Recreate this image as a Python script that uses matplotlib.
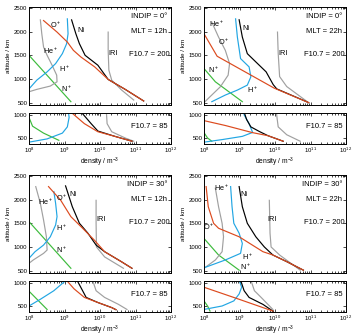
import numpy as np
import matplotlib
matplotlib.use("Agg")
import matplotlib.pyplot as plt
from matplotlib.ticker import LogLocator, NullFormatter, FixedLocator

plt.rcParams["font.family"] = ["Liberation Sans", "DejaVu Sans"]
plt.rcParams["mathtext.default"] = "regular"

# panel annotations
INDIP = ["0°", "0°", "30°", "30°"]
MLT = ["12h", "22h", "12h", "22h"]
F_HIGH = "F10.7 = 200"
F_LOW = "F10.7 = 85"
XTICKS = [1e8, 1e9, 1e10, 1e11, 1e12]

# curves as (log10 density / m^-3, altitude / km)
# panel 1: INDIP 0, MLT 12h
p1_top_op = [(8.41, 2234), (8.79, 1990), (9.08, 1780), (9.25, 1605), (9.46, 1465),
             (9.85, 1255), (10.23, 990), (10.71, 780), (11.23, 535)]
p1_top_ni = [(9.20, 2248), (9.32, 1955), (9.42, 1745), (9.58, 1500), (9.94, 1290),
             (10.23, 990), (10.71, 780), (11.23, 535)]
p1_top_he = [(8.32, 2248), (8.36, 1955), (8.41, 1675), (8.51, 1500), (8.65, 1290),
             (8.78, 1080), (8.79, 940), (8.60, 850), (8.22, 780), (8.0, 730)]
p1_top_h = [(9.08, 2270), (9.10, 1955), (9.06, 1745), (8.94, 1535), (8.75, 1325),
            (8.51, 1150), (8.22, 975), (8.0, 790)]
p1_top_n = [(8.0, 1500), (9.18, 520)]
p1_top_iri = [(10.23, 1990), (10.23, 1605), (10.25, 1185), (10.33, 975), (10.61, 765), (10.95, 555)]
p1_bot_n = [(8.0, 945), (8.10, 755), (8.41, 605), (8.84, 450)]
p1_bot_h = [(8.0, 410), (8.51, 480), (8.94, 605), (9.08, 740), (9.13, 945), (9.11, 1060)]
p1_bot_op = [(9.18, 1060), (9.56, 810), (9.94, 635), (10.42, 535), (10.90, 430)]
p1_bot_ni = [(9.47, 1060), (9.75, 810), (9.94, 650), (10.42, 535), (10.90, 430)]
p1_bot_iri = [(10.18, 1060), (10.20, 810), (10.33, 635), (10.71, 500), (10.95, 430)]

# panel 2: INDIP 0, MLT 22h
p2_top_op = [(8.0, 1955), (8.37, 1480), (9.98, 805), (10.95, 500)]
p2_top_ni = [(8.99, 2250), (9.08, 1885), (9.22, 1535), (9.46, 1360), (9.75, 1150),
             (9.95, 880), (10.05, 790), (10.95, 500)]
p2_top_he = [(8.22, 2200), (8.41, 1885), (8.60, 1605), (8.72, 1325), (8.68, 1080),
             (8.46, 835), (8.17, 625), (8.0, 500)]
p2_top_h = [(8.89, 2270), (8.94, 1885), (9.03, 1430), (9.27, 1255), (9.32, 1045),
            (9.22, 870), (8.94, 765), (8.60, 660), (8.22, 520)]
p2_top_n = [(8.0, 1220), (8.32, 940), (8.70, 730), (9.08, 520)]
p2_top_iri = [(10.07, 1990), (10.09, 1540), (10.13, 1050), (10.33, 840), (10.90, 525)]
p2_bot_op = [(8.0, 875), (8.6, 770), (9.37, 615), (9.8, 550), (10.23, 430)]
p2_bot_n = [(8.0, 615), (8.10, 500), (8.22, 430)]
p2_bot_h = [(8.0, 410), (8.51, 465), (9.08, 535), (9.37, 620), (9.27, 810), (9.13, 1000), (9.12, 1060)]
p2_bot_ni = [(9.13, 1060), (9.20, 900), (9.32, 740), (9.56, 640), (9.8, 550), (10.23, 430)]
p2_bot_iri = [(10.04, 1060), (10.05, 980), (10.09, 740), (10.33, 570), (10.71, 430)]

# panel 3: INDIP 30, MLT 12h
p3_top_op = [(8.55, 2275), (8.89, 1990), (9.18, 1640), (9.51, 1395), (9.84, 1145),
             (10.13, 900), (10.60, 690), (10.90, 550)]
p3_top_ni = [(9.03, 2290), (9.22, 1850), (9.42, 1500), (9.66, 1290), (9.89, 1040),
             (10.13, 900), (10.60, 690), (10.90, 550)]
p3_top_he = [(8.19, 2275), (8.32, 1920), (8.41, 1570), (8.49, 1215), (8.51, 935),
             (8.41, 865), (8.12, 725), (8.0, 655)]
p3_top_h = [(8.70, 2170), (8.75, 1920), (8.79, 1640), (8.75, 1465), (8.60, 1215),
            (8.41, 1040), (8.17, 900), (8.0, 760)]
p3_top_n = [(8.0, 1535), (9.18, 550)]
p3_top_iri = [(9.89, 1985), (9.89, 1500), (9.90, 1000), (10.13, 790), (10.66, 550)]
p3_bot_op = [(9.05, 1060), (9.27, 870), (9.56, 685), (9.94, 575), (10.33, 465), (10.45, 420)]
p3_bot_n = [(8.0, 820), (8.51, 425)]
p3_bot_h = [(8.0, 500), (8.32, 645), (8.70, 830), (9.05, 1060)]
p3_bot_ni = [(9.35, 1060), (9.51, 830), (9.61, 685), (9.94, 575), (10.33, 465), (10.45, 420)]
p3_bot_iri = [(9.79, 1060), (9.89, 830), (10.13, 685), (10.52, 535), (10.76, 425)]

# panel 4: INDIP 30, MLT 22h
p4_top_op = [(8.06, 2275), (8.12, 1850), (8.27, 1500), (8.41, 1395), (8.99, 1215),
             (9.66, 900), (9.94, 830), (10.33, 690), (10.80, 510)]
p4_top_ni = [(8.99, 2275), (9.08, 1850), (9.22, 1500), (9.46, 1215), (9.70, 1000),
             (9.94, 830), (10.33, 690), (10.80, 510)]
p4_top_he = [(8.32, 2240), (8.41, 1850), (8.51, 1500), (8.55, 1215), (8.51, 900),
             (8.32, 725), (8.0, 550)]
p4_top_h = [(8.75, 2275), (8.79, 1850), (8.84, 1500), (8.99, 1290), (9.08, 1075),
            (9.03, 865), (8.60, 725), (8.0, 560)]
p4_top_n = [(8.0, 1180), (8.41, 830), (8.99, 510)]
p4_top_iri = [(9.84, 1985), (9.86, 1290), (9.89, 1000), (10.13, 830), (10.71, 510)]
p4_bot_op = [(8.0, 905), (8.97, 650), (9.94, 390)]
p4_bot_n = [(8.0, 610), (8.10, 500), (8.17, 390)]
p4_bot_h = [(8.0, 425), (8.51, 500), (8.84, 610), (8.99, 760), (9.06, 905), (8.99, 1060)]
p4_bot_ni = [(9.03, 1060), (9.13, 830), (9.27, 685), (9.66, 535), (9.94, 390)]
p4_bot_iri = [(9.32, 1060), (9.42, 830), (9.61, 685), (9.94, 425)]

RED = "#dc4a1e"
BLUE = "#22a6e3"
GREEN = "#3dbb3d"
GRAY = "#a0a0a0"

W, H = 354, 336
fig = plt.figure(figsize=(W / 100, H / 100), dpi=100)


def box(l, t, r, b):
    return [l / W, 1 - b / H, (r - l) / W, (b - t) / H]


def style(ax, ylim, yticks):
    ax.set_xscale("log")
    ax.set_xlim(1e8, 1e12)
    ax.set_ylim(*ylim)
    ax.xaxis.set_major_locator(FixedLocator(XTICKS))
    ax.xaxis.set_minor_locator(LogLocator(base=10, subs=np.arange(2, 10)))
    ax.xaxis.set_minor_formatter(NullFormatter())
    ax.set_yticks(yticks)
    ax.tick_params(which="both", direction="in", top=True, right=True,
                   width=0.5, labelsize=4.3, pad=1.2)
    ax.tick_params(which="major", length=2.2)
    ax.tick_params(which="minor", length=1.2)
    for s in ax.spines.values():
        s.set_linewidth(0.7)


def draw(ax, curves):
    for pts, c in curves:
        a = np.array(pts)
        ax.plot(10 ** a[:, 0], a[:, 1], color=c, lw=0.85)


panels = [
    (29, 0, [p1_top_n, p1_top_he, p1_top_h, p1_top_iri, p1_top_ni, p1_top_op],
     [p1_bot_n, p1_bot_h, p1_bot_iri, p1_bot_ni, p1_bot_op]),
    (204, 0, [p2_top_n, p2_top_he, p2_top_h, p2_top_iri, p2_top_ni, p2_top_op],
     [p2_bot_n, p2_bot_h, p2_bot_iri, p2_bot_ni, p2_bot_op]),
    (29, 168, [p3_top_n, p3_top_he, p3_top_h, p3_top_iri, p3_top_ni, p3_top_op],
     [p3_bot_n, p3_bot_h, p3_bot_iri, p3_bot_ni, p3_bot_op]),
    (204, 168, [p4_top_n, p4_top_he, p4_top_h, p4_top_iri, p4_top_ni, p4_top_op],
     [p4_bot_n, p4_bot_h, p4_bot_iri, p4_bot_ni, p4_bot_op]),
]
top_colors = [GREEN, GRAY, BLUE, GRAY, "black", RED]
bot_colors = [GREEN, BLUE, GRAY, "black", RED]

# species label positions (log10 density, altitude)
label_pos = [
    {"O$^+$": (8.75, 2150), "Ni": (9.46, 2030), "He$^+$": (8.62, 1600),
     "H$^+$": (9.0, 1220), "N$^+$": (9.05, 790), "IRI": (10.37, 1540)},
    {"He$^+$": (8.36, 2170), "Ni": (9.18, 2060), "O$^+$": (8.55, 1780),
     "N$^+$": (8.27, 1190), "H$^+$": (9.37, 770), "IRI": (10.23, 1540)},
    {"He$^+$": (8.47, 1960), "O$^+$": (8.93, 2040), "Ni": (9.24, 2100),
     "H$^+$": (8.93, 1395), "N$^+$": (8.93, 940), "IRI": (10.03, 1570)},
    {"He$^+$": (8.50, 2240), "Ni": (9.12, 2100), "O$^+$": (8.12, 1430),
     "H$^+$": (9.22, 800), "N$^+$": (9.17, 590), "IRI": (9.93, 1570)},
]

for i, (x0, y0, top, bot) in enumerate(panels):
    ax1 = fig.add_axes(box(x0, y0 + 7, x0 + 142, y0 + 105))
    ax2 = fig.add_axes(box(x0, y0 + 113, x0 + 142, y0 + 144))
    style(ax1, (450, 2520), [500, 1000, 1500, 2000, 2500])
    style(ax2, (370, 1040), [500, 1000])
    ax1.tick_params(labelbottom=False)
    draw(ax1, zip(top, top_colors))
    draw(ax2, zip(bot, bot_colors))

    for name, (lx, ly) in label_pos[i].items():
        ax1.text(10 ** lx, ly, name, fontsize=5.3, ha="center", va="center")

    ax1.text(0.975, 0.9, f"INDIP = {INDIP[i]}", transform=ax1.transAxes,
             fontsize=5.5, ha="right", va="center")
    ax1.text(0.975, 0.75, f"MLT = {MLT[i]}", transform=ax1.transAxes,
             fontsize=5.5, ha="right", va="center")
    ax1.text(0.99, 0.52, F_HIGH, transform=ax1.transAxes,
             fontsize=5.5, ha="right", va="center")
    ax2.text(0.975, 0.55, F_LOW, transform=ax2.transAxes,
             fontsize=5.5, ha="right", va="center")

    ax1.set_ylabel("altitude / km", fontsize=4.6, labelpad=2)
    ax2.set_xlabel("density / m$^{-3}$", fontsize=4.8, labelpad=0.5)

fig.savefig("out.png", dpi=100)
